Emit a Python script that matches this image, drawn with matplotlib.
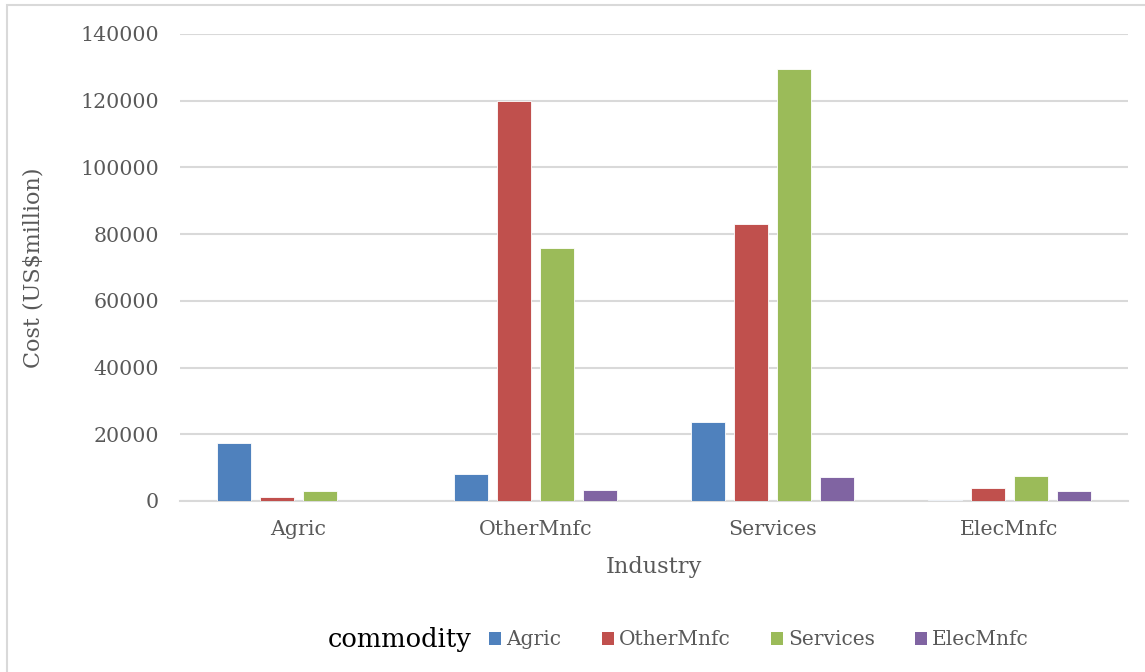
import numpy as np
import matplotlib.pyplot as plt
from matplotlib.patches import Patch, Rectangle

'''
Cost by industry, split by commodity
'''
industries = ["Agric", "OtherMnfc", "Services", "ElecMnfc"]
commodities = ["Agric", "OtherMnfc", "Services", "ElecMnfc"]
cost_agric = [17500, 8000, 23800, 200]
cost_othermnfc = [1200, 120000, 83100, 3900]
cost_services = [3000, 75900, 129500, 7600]
cost_elecmnfc = [0, 3200, 7200, 3100]
yticks = [0, 20000, 40000, 60000, 80000, 100000, 120000, 140000]

series = [cost_agric, cost_othermnfc, cost_services, cost_elecmnfc]
colors = ["#4F81BD", "#C0504D", "#9BBB59", "#8064A2"]
grey = "#595959"
line_grey = "#D9D9D9"

plt.rcParams['font.family'] = ['DejaVu Serif']

fig = plt.figure(figsize=(11.45, 6.72), dpi=100)
ax = fig.add_axes([0.1572, 0.2545, 0.828, 0.695])

x = np.arange(len(industries))
pitch = 0.181
width = 0.143
for i, (vals, col) in enumerate(zip(series, colors)):
    offset = (i - 1.5) * pitch
    ax.bar(x + offset, vals, width=width, color=col, edgecolor="white",
           linewidth=0.6, zorder=3)

ax.set_xlim(-0.5, len(industries) - 0.5)
ax.set_ylim(0, 140000)
ax.set_yticks(yticks)
ax.set_yticklabels([str(v) for v in yticks])
ax.set_xticks(x)
ax.set_xticklabels(industries)
ax.tick_params(axis='both', length=0, labelsize=14.8, labelcolor=grey)
ax.tick_params(axis='x', pad=14)
ax.tick_params(axis='y', pad=15)

ax.grid(axis='y', color=line_grey, linewidth=1.5, zorder=0)
for side in ["left", "right", "top"]:
    ax.spines[side].set_visible(False)
ax.spines["bottom"].set_color(line_grey)
ax.spines["bottom"].set_linewidth(1.5)

ax.set_xlabel("Industry", fontsize=16.2, color=grey)
ax.set_ylabel("Cost (US$million)", fontsize=16, color=grey)
ax.xaxis.set_label_coords(0.5, -0.118)
ax.yaxis.set_label_coords(-0.143, 0.5)

# legend row with its title on the left
handles = [Patch(facecolor=c, edgecolor="none") for c in colors]
fig.legend(handles, commodities, loc="center", bbox_to_anchor=(0.663, 0.048),
           ncol=4, frameon=False, fontsize=14.5, labelcolor=grey,
           handlelength=0.6, handleheight=0.6, handletextpad=0.25,
           columnspacing=2.0)
fig.text(328 / 1145, 0.048, "commodity", fontsize=18.5, color="black",
         ha="left", va="center")

# outer chart border
fig.patches.append(Rectangle((7 / 1145, -0.05), 1.2, 1 - 5 / 672 + 0.05,
                             transform=fig.transFigure, fill=False,
                             edgecolor=line_grey, linewidth=1.5))

plt.savefig("out.png", dpi=100)
